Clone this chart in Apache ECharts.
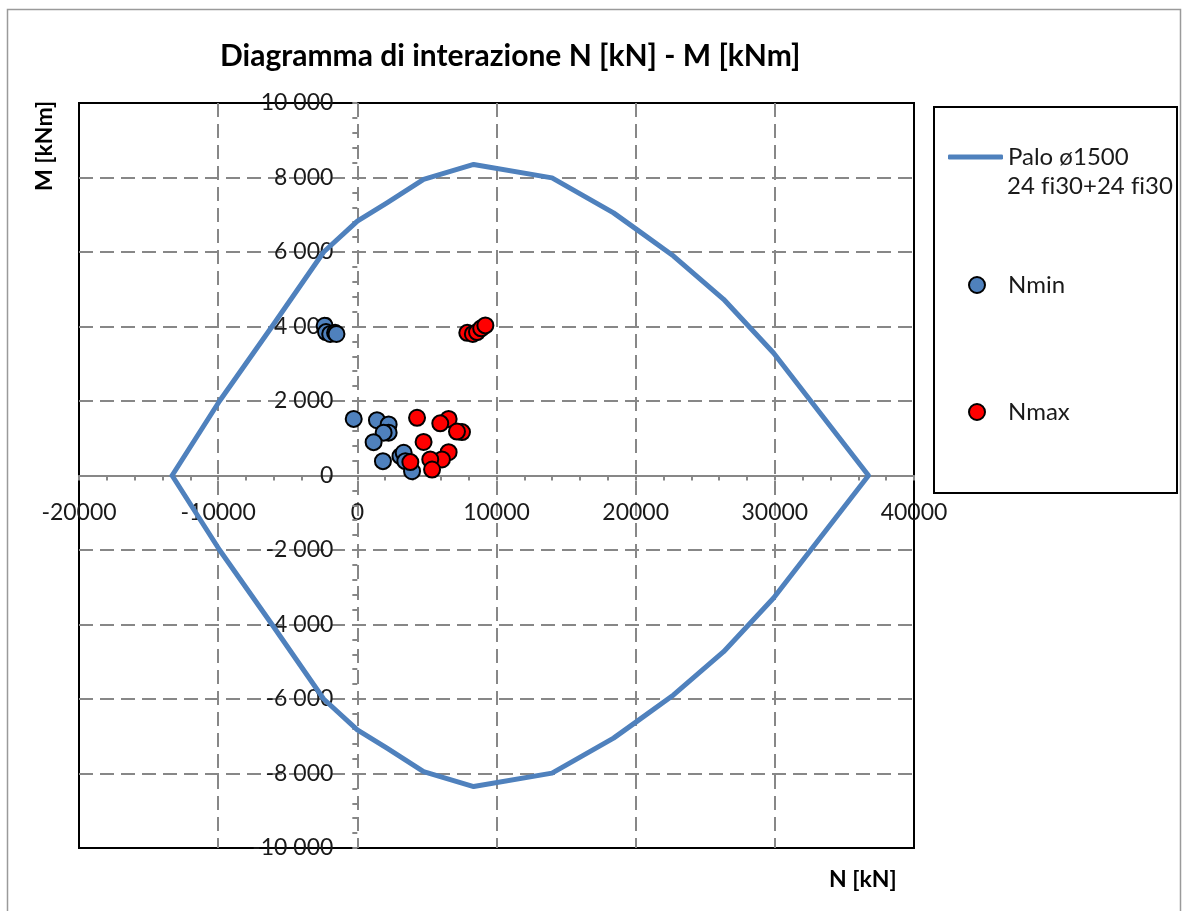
<!DOCTYPE html>
<html>
<head>
<meta charset="utf-8">
<title>Diagramma di interazione N-M</title>
<script src="https://cdn.jsdelivr.net/npm/echarts@6/dist/echarts.min.js"></script>
<style>
  html, body { margin: 0; padding: 0; background: #ffffff; }
  #chart { width: 1184px; height: 911px; }
</style>
</head>
<body>
<div id="chart"></div>
<script>
// Interaction domain of the pile section (closed loop: upper branch left to right, lower branch back)
const domainN = [-13310, -9900, -6130, -2420, 0, 2130, 4760, 8360, 13990, 18410, 20090, 22720, 26320, 29910, 36730,
                 29910, 26320, 22720, 20090, 18410, 13990, 8360, 4760, 2130, 0, -2420, -6130, -9900, -13310];
const domainM = [0, 2000, 4000, 6000, 6830, 7320, 7950, 8350, 7990, 7050, 6600, 5890, 4730, 3290, 0,
                 -3290, -4730, -5890, -6600, -7050, -7990, -8350, -7950, -7320, -6830, -6000, -4000, -2000, 0];

// Load combinations with minimum axial force
const nminN = [-260, 1410, 2250, 2250, 1890, 1170, 1840, 3100, 3330, 3450, 3930, -2350, -2250, -1950, -1600, -1500];
const nminM = [1520, 1485, 1370, 1150, 1150, 895, 385, 520, 610, 385, 115, 4020, 3850, 3800, 3830, 3800];

// Load combinations with maximum axial force
const nmaxN = [4290, 6560, 5960, 7520, 7160, 4760, 6560, 6080, 5240, 3810, 5370, 7900, 8300, 8600, 8900, 9200];
const nmaxM = [1550, 1520, 1400, 1165, 1180, 900, 625, 430, 430, 360, 160, 3830, 3800, 3850, 3950, 4030];

// Axis ranges
const nAxis = { min: -20000, max: 40000, interval: 10000 };
const mAxis = { min: -10000, max: 10000, interval: 2000 };

const titleText = 'Diagramma di interazione N [kN] - M [kNm]';
const domainName = 'Palo ø1500';
// zero-width non-joiner keeps "f" and "i" as separate glyphs
const domainName2 = '24 f\u200Ci30+24 f\u200Ci30';
const nminName = 'Nmin';
const nmaxName = 'Nmax';
const nLabel = 'N [kN]';
const mLabel = 'M [kNm]';

const FONT = 'Lato, "Open Sans", sans-serif';
const GRID_GRAY = '#878787';
const BLUE = '#4F81BD';
const RED = '#FF0000';

// plot rectangle
const PLOT = { left: 79, top: 103, width: 835, height: 745 };

function zip(a, b) { return a.map((v, i) => [v, b[i]]); }
function spaced(v) {
  const s = Math.abs(v).toString().replace(/\B(?=(\d{3})+(?!\d))/g, ' ');
  return (v < 0 ? '-' : '') + s;
}

// axes cross at N = 0 and M = 0: shift each axis from the plot edge to the zero line
const xAxisShift = -PLOT.height * (0 - mAxis.min) / (mAxis.max - mAxis.min);
const yAxisShift = -PLOT.width * (0 - nAxis.min) / (nAxis.max - nAxis.min);

const chart = echarts.init(document.getElementById('chart'), null, { renderer: 'canvas' });

const legendText = { fontFamily: FONT, fontSize: 24, color: '#1a1a1a', lineHeight: 30 };
const markerLegendText = Object.assign({}, legendText, { padding: [0, 0, 0, 18] });

const option = {
  animation: false,
  backgroundColor: '#ffffff',
  title: {
    text: titleText,
    left: 220,
    top: 41,
    padding: 0,
    textStyle: { fontFamily: FONT, fontSize: 30, fontWeight: 'bold', color: '#000' }
  },
  grid: {
    left: PLOT.left, top: PLOT.top, width: PLOT.width, height: PLOT.height,
    outerBoundsMode: 'none',
    show: true, borderColor: '#000', borderWidth: 2, backgroundColor: 'transparent'
  },
  legend: [
    {
      data: [{ name: domainName, icon: 'roundRect' }], left: 948, top: 142, padding: 0,
      itemWidth: 55, itemHeight: 5, itemGap: 0,
      textStyle: legendText
    },
    {
      data: [{ name: nminName, icon: 'circle' }], left: 968, top: 270, padding: 0,
      itemWidth: 16, itemHeight: 16, itemGap: 0,
      textStyle: markerLegendText
    },
    {
      data: [{ name: nmaxName, icon: 'circle' }], left: 968, top: 397, padding: 0,
      itemWidth: 16, itemHeight: 16, itemGap: 0,
      textStyle: markerLegendText
    }
  ],
  xAxis: {
    type: 'value',
    position: 'bottom',
    offset: xAxisShift,
    min: nAxis.min, max: nAxis.max, interval: nAxis.interval,
    axisLine: { show: true, onZero: false, lineStyle: { color: GRID_GRAY, width: 2 } },
    axisTick: { show: true, length: 5, lineStyle: { color: GRID_GRAY, width: 2 } },
    minorTick: { show: true, splitNumber: 5, length: 5, lineStyle: { color: GRID_GRAY, width: 2 } },
    axisLabel: {
      show: true, margin: 26, showMinLabel: true, showMaxLabel: true,
      fontFamily: FONT, fontSize: 23, color: '#1a1a1a',
      formatter: (v) => String(v)
    },
    splitLine: {
      show: true, showMinLine: false, showMaxLine: false,
      lineStyle: { color: GRID_GRAY, width: 2, type: [14, 7] }
    }
  },
  yAxis: {
    type: 'value',
    position: 'left',
    offset: yAxisShift,
    z: 1,
    min: mAxis.min, max: mAxis.max, interval: mAxis.interval,
    axisLine: { show: false, onZero: false },
    axisTick: { show: true, length: 5, lineStyle: { color: GRID_GRAY, width: 2 } },
    minorTick: { show: true, splitNumber: 5, length: 5, lineStyle: { color: GRID_GRAY, width: 2 } },
    axisLabel: {
      show: true, margin: 24, showMinLabel: true, showMaxLabel: true,
      fontFamily: FONT, fontSize: 23, color: '#1a1a1a',
      formatter: spaced
    },
    splitLine: {
      show: true, showMinLine: false, showMaxLine: false,
      lineStyle: { color: GRID_GRAY, width: 2, type: [14, 7] }
    }
  },
  series: [
    {
      name: domainName,
      type: 'line',
      data: zip(domainN, domainM),
      symbol: 'none',
      smooth: false,
      lineStyle: { color: BLUE, width: 5, cap: 'round', join: 'round' },
      itemStyle: { color: BLUE },
      z: 2
    },
    {
      name: nminName,
      type: 'scatter',
      data: zip(nminN, nminM),
      symbol: 'circle',
      symbolSize: 16,
      itemStyle: { color: BLUE, borderColor: '#000', borderWidth: 2, opacity: 1 },
      z: 3
    },
    {
      name: nmaxName,
      type: 'scatter',
      data: zip(nmaxN, nmaxM),
      symbol: 'circle',
      symbolSize: 16,
      itemStyle: { color: RED, borderColor: '#000', borderWidth: 2, opacity: 1 },
      z: 4
    }
  ],
  graphic: [
    // outer chart frame
    { type: 'rect', silent: true, z: -10,
      shape: { x: 7.5, y: 9.5, width: 1173, height: 910 },
      style: { fill: null, stroke: '#9a9a9a', lineWidth: 1.5 } },
    // legend frame
    { type: 'rect', silent: true, z: 10,
      shape: { x: 934, y: 107, width: 243, height: 386 },
      style: { fill: null, stroke: '#000', lineWidth: 2 } },
    // second line of the domain legend entry
    { type: 'text', silent: true, z: 10, left: 1007, top: 174,
      style: { text: domainName2, font: '24px ' + FONT, fill: '#1a1a1a' } },
    // axis titles
    { type: 'text', silent: true, z: 10, left: 829, top: 868,
      style: { text: nLabel, font: 'bold 23px ' + FONT, fill: '#000' } },
    { type: 'text', silent: true, z: 10, x: 33, y: 191, rotation: Math.PI / 2,
      style: { text: mLabel, font: 'bold 23px ' + FONT, fill: '#000' } }
  ]
};

chart.setOption(option);
</script>
</body>
</html>
